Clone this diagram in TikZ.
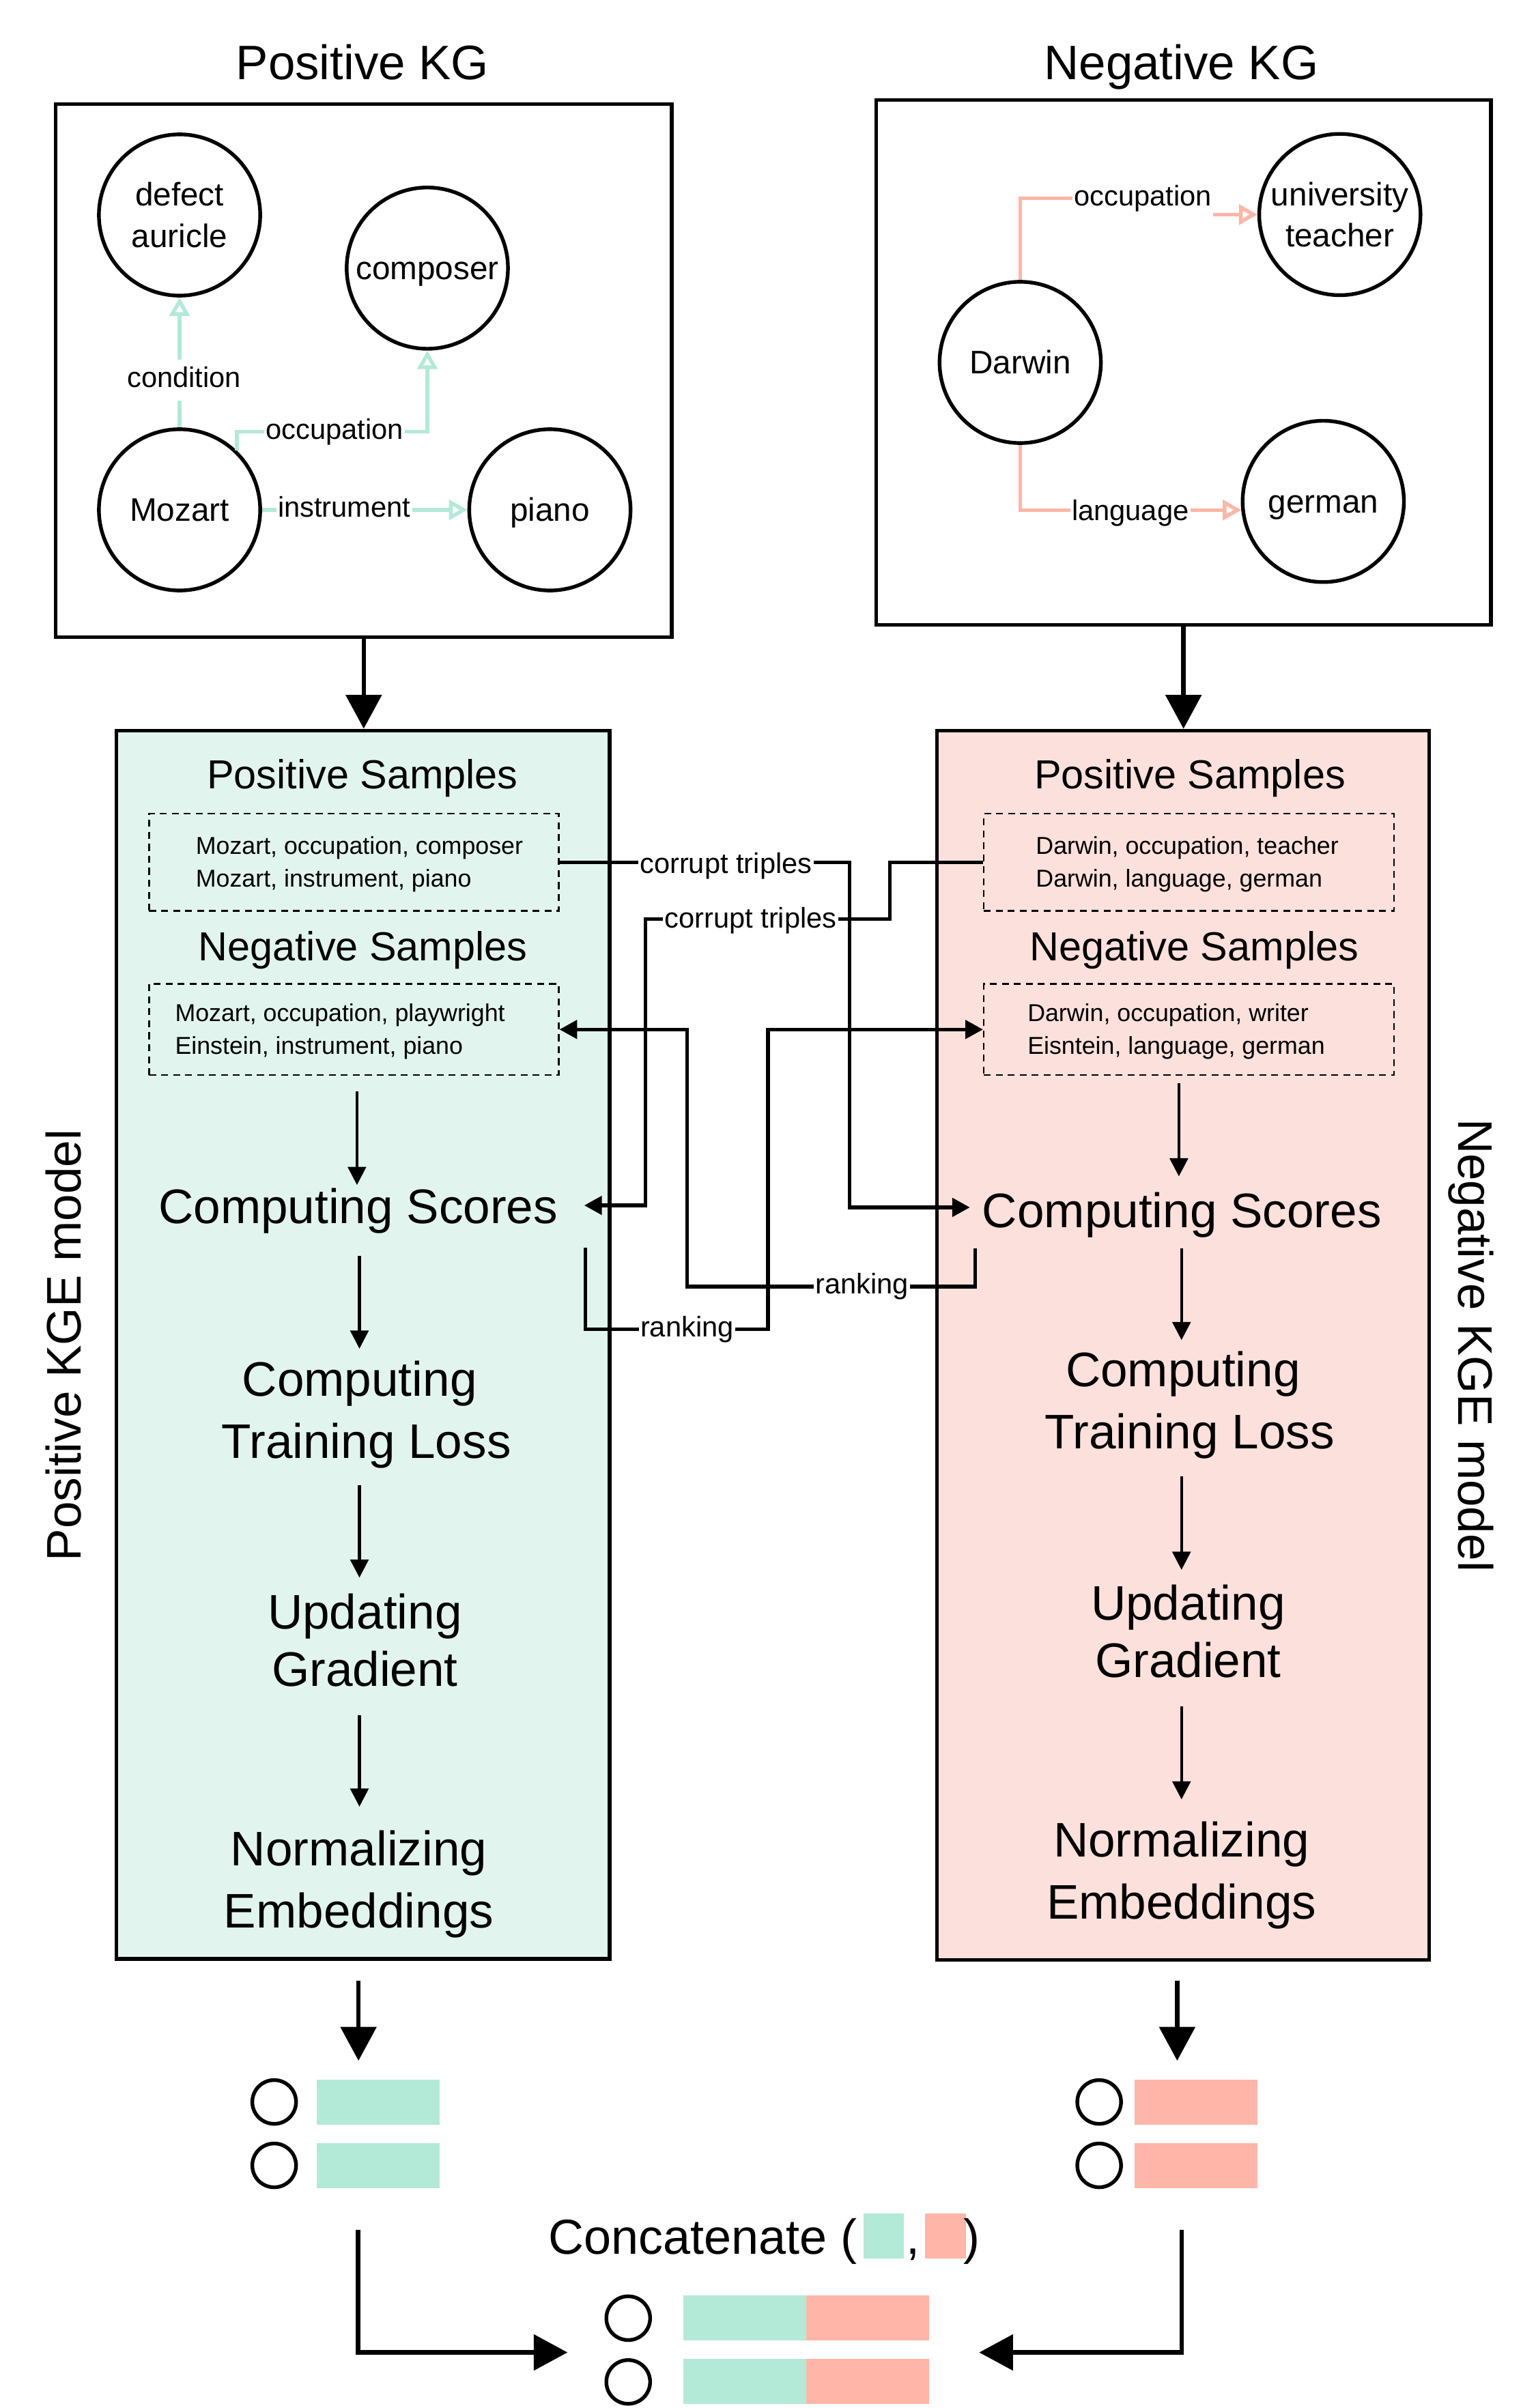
\documentclass[tikz,border=0pt]{standalone}
\usepackage{fontspec}
\setmainfont{Liberation Sans}
\usetikzlibrary{arrows.meta,calc}
\definecolor{tealc}{RGB}{179,234,215}
\definecolor{salmc}{RGB}{255,181,167}
\definecolor{tealbg}{RGB}{225,245,238}
\definecolor{salmbg}{RGB}{252,224,219}
\newcommand\fsTitle{\fontsize{31.5}{38}\selectfont}
\newcommand\fsCirc{\fontsize{21.2}{27}\selectfont}
\newcommand\fsLbl{\fontsize{18.5}{22}\selectfont}
\newcommand\fsSamp{\fontsize{26.4}{32}\selectfont}
\newcommand\fsTrip{\fontsize{15.9}{21.3}\selectfont}
\newcommand\fsStep{\fontsize{31.6}{40.4}\selectfont}
\newcommand\fsStepB{\fontsize{31.6}{37.5}\selectfont}
\newcommand\fsStepC{\fontsize{31.6}{40.6}\selectfont}
\newcommand\fsConc{\fontsize{32}{38}\selectfont}
\begin{document}
\begin{tikzpicture}[x=1pt,y=-1pt,
  ttl/.style={font=\fsTitle, inner sep=0pt},
  kgbox/.style={draw, line width=2.4pt, inner sep=0pt},
  ent/.style={circle, draw, line width=2.4pt, minimum size=105pt, inner sep=0pt, align=center, font=\fsCirc},
  entS/.style={ent, text height=20.07pt, text depth=5.37pt},
  kgpos/.style={draw=tealc, line width=2.4pt, -{Triangle[open, length=12pt, width=13pt]}},
  kgneg/.style={draw=salmc, line width=2.4pt, -{Triangle[open, length=12pt, width=13pt]}},
  elbl/.style={fill=white, font=\fsLbl, text=black, inner xsep=1pt, inner ysep=4.5pt, text height=13.5pt, text depth=3.9pt},
  modelbox/.style={draw, line width=2.4pt, inner sep=0pt},
  samp/.style={font=\fsSamp, inner sep=0pt, anchor=base},
  dbox/.style={draw, line width=1.1pt, dash pattern=on 4.5pt off 3.3pt, inner sep=0pt},
  trip/.style={font=\fsTrip, align=left, inner sep=0pt, anchor=north west},
  stepbox/.style={align=center, inner sep=0pt, anchor=north},
  stepar/.style={line width=1.8pt, -{Triangle[length=11.8pt, width=11.8pt]}},
  bigar/.style={line width=2.8pt, -{Triangle[length=22pt, width=23pt]}},
  xar/.style={line width=2.3pt, -{Triangle[length=11.5pt, width=12pt]}},
  xlbl/.style={fill=white, font=\fsLbl, inner xsep=1pt, inner ysep=2pt, text height=13.5pt, text depth=3.9pt},
  vec/.style={circle, draw, line width=2.4pt, minimum size=28.5pt, inner sep=0pt},
  bar/.style={minimum width=80pt, minimum height=29.3pt, inner sep=0pt}
]
\fill[white] (0,0) rectangle (1000,1568);
\useasboundingbox (0,0) rectangle (1000,1568);

% ---------- Knowledge graphs ----------
\node[ttl, anchor=base] (tpos) at (236,51.9) {Positive KG};
\node[ttl, anchor=base] (tneg) at (769.1,51.9) {Negative KG};
\node[kgbox, minimum width=401pt, minimum height=347pt] (posKG) at (236.8,241.4) {};
\node[kgbox, minimum width=400.3pt, minimum height=342pt] (negKG) at (770.5,236) {};

\node[ent] (defect) at (116.9,140) {defect\\auricle};
\node[entS] (composer) at (278.2,174.6) {composer};
\node[entS] (mozart) at (116.9,332) {Mozart};
\node[entS] (piano) at (358,332) {piano};
\node[ent] (univ) at (872.3,139.7) {university\\teacher};
\node[entS] (darwin) at (664.2,236) {Darwin};
\node[entS] (german) at (861.5,326.5) {german};

\draw[kgpos] (mozart.north) -- node[elbl, pos=0.364, xshift=3pt] (lcond) {condition} (defect.south);
\draw[kgpos] (mozart.46) |- node[elbl, pos=0.757] (loccp) {occupation} (composer.south |- 0,281.2) -- (composer.south);
\draw[kgpos] (mozart.east) -- node[elbl, pos=0.40] (linst) {instrument} (piano.west);
\draw[kgneg] (darwin.north) |- node[elbl, pos=0.845] (loccn) {occupation} (780,129) |- (univ.west);
\draw[kgneg] (darwin.south) |- node[elbl, pos=0.749, yshift=-1.8pt] (llang) {language} (german.186);

% ---------- KGE model boxes ----------
\node[modelbox, fill=tealbg, minimum width=321pt, minimum height=799.8pt] (posKGE) at (236.3,875.6) {};
\node[modelbox, fill=salmbg, minimum width=320.3pt, minimum height=800.5pt] (negKGE) at (770.25,876) {};

\draw[bigar] (posKG.south) -- (posKG.south |- posKGE.north);
\draw[bigar] (negKG.south) -- (negKG.south |- negKGE.north);

\node[font=\fsStep, rotate=90, inner sep=0pt] (pmodel) at (41.5,876) {Positive KGE model};
\node[font=\fsStep, rotate=-90, inner sep=0pt] (nmodel) at (957.8,876) {Negative KGE model};

% samples (left)
\node[samp] (ps1) at (236,513.4) {Positive Samples};
\node[dbox, minimum width=266.6pt, minimum height=63.3pt] (pd1) at (230.4,561.45) {};
\node[trip] (pt1) at (127.3,544.4) {Mozart, occupation, composer\\Mozart, instrument, piano};
\node[samp] (ns1) at (236.2,625.4) {Negative Samples};
\node[dbox, minimum width=266.6pt, minimum height=59.3pt] (nd1) at (230.4,670.35) {};
\node[trip] (nt1) at (113.8,653.4) {Mozart, occupation, playwright\\Einstein, instrument, piano};

% samples (right)
\node[samp] (ps2) at (774.7,513.4) {Positive Samples};
\node[dbox, minimum width=267.1pt, minimum height=63.3pt] (pd2) at (774.05,561.45) {};
\node[trip] (pt2) at (674.2,544.4) {Darwin, occupation, teacher\\Darwin, language, german};
\node[samp] (ns2) at (777.4,625.4) {Negative Samples};
\node[dbox, minimum width=267.1pt, minimum height=59.3pt] (nd2) at (774.05,670.35) {};
\node[trip] (nt2) at (668.8,653.4) {Darwin, occupation, writer\\Eisntein, language, german};

% steps (left)
\node[stepbox, font=\fsStep] (cs1) at (233.2,773.6) {Computing Scores};
\node[stepbox, font=\fsStep] (tl1) at (238.5,886.2) {Computing\rule{8.8pt}{0pt}\\Training Loss};
\node[stepbox, font=\fsStepB] (ug1) at (237.5,1037.4) {Updating\\Gradient};
\node[stepbox, font=\fsStepC] (ne1) at (233.6,1191.6) {Normalizing\\Embeddings};

% steps (right)
\node[stepbox, font=\fsStep] (cs2) at (769.5,776.4) {Computing Scores};
\node[stepbox, font=\fsStep] (tl2) at (774.6,879.8) {Computing\rule{8.8pt}{0pt}\\Training Loss};
\node[stepbox, font=\fsStepB] (ug2) at (773.5,1031.7) {Updating\\Gradient};
\node[stepbox, font=\fsStepC] (ne2) at (769.2,1186) {Normalizing\\Embeddings};

\coordinate (axL0) at (232.4,0);
\coordinate (axL) at (234,0);
\coordinate (axR0) at (767.5,0);
\coordinate (axR) at (769.2,0);

\draw[stepar, shorten <=10.3pt, shorten >=2pt] (axL0 |- nd1.south) -- (axL0 |- cs1.north);
\draw[stepar, shorten <=14.3pt, shorten >=8pt] (axL |- cs1.south) -- (axL |- tl1.north);
\draw[stepar, shorten <=10.5pt, shorten >=10.1pt] (axL |- tl1.south) -- (axL |- ug1.north);
\draw[stepar, shorten <=18.4pt, shorten >=15.2pt] (axL |- ug1.south) -- (axL |- ne1.north);

\draw[stepar, shorten <=4.9pt, shorten >=10.4pt] (axR0 |- nd2.south) -- (axR0 |- cs2.north);
\draw[stepar, shorten <=6.5pt, shorten >=7.2pt] (axR |- cs2.south) -- (axR |- tl2.north);
\draw[stepar, shorten <=11.2pt, shorten >=9.5pt] (axR |- tl2.south) -- (axR |- ug2.north);
\draw[stepar, shorten <=18.5pt, shorten >=14.3pt] (axR |- ug2.south) -- (axR |- ne2.north);

% ---------- cross connectors ----------
\draw[xar, shorten >=7.9pt] (pd1.east) -| node[xlbl, pos=0.287, yshift=-2.5pt] (lct1) {corrupt triples} (553,786.2) -- (cs2.west |- 0,786.2);
\draw[xar, shorten >=17pt] (pd2.west) -| (579.4,598.5) -| node[xlbl, pos=0.285, yshift=-1pt] (lct2) {corrupt triples} (420.2,784.9) -- (cs1.east |- 0,784.9);
\draw[xar] ($(cs2.south west)+(-4.6,6.5)$) |- node[xlbl, pos=0.696] (lrk1) {ranking} (447.2,837.8) |- (nd1.east);
\draw[xar] ($(cs1.south east)+(17.8,9)$) |- node[xlbl, pos=0.778] (lrk2) {ranking} (500,865.5) |- (nd2.west);

% ---------- embeddings ----------
\node[vec] (pc1) at (178.5,1368.7) {};
\node[vec] (pc2) at (178.5,1410) {};
\node[bar, fill=tealc] (pb1) at (246.05,1368.7) {};
\node[bar, fill=tealc] (pb2) at (246.05,1410.05) {};
\node[vec] (nc1) at (715.6,1368.7) {};
\node[vec] (nc2) at (715.6,1410) {};
\node[bar, fill=salmc] (nb1) at (778.75,1368.7) {};
\node[bar, fill=salmc] (nb2) at (778.75,1410.05) {};

\draw[bigar, shorten <=13pt, shorten >=12pt] ([xshift=-2.9pt]posKGE.south) -- ([xshift=-2.9pt]posKGE.south |- pb1.north);
\draw[bigar, shorten <=12.2pt, shorten >=12pt] ([xshift=-3.85pt]negKGE.south) -- ([xshift=-3.85pt]negKGE.south |- nb1.north);

\node[anchor=base west, font=\fsConc, inner sep=0pt] (concat) at (356.9,1467.9) {Concatenate (};
\node[fill=tealc, minimum width=26.2pt, minimum height=29.2pt, inner sep=0pt] (cq1) at (575.3,1456) {};
\node[anchor=base west, font=\fsConc, inner sep=0pt] (ccomma) at (590,1467.9) {,};
\node[fill=salmc, minimum width=26.7pt, minimum height=29.2pt, inner sep=0pt] (cq2) at (615.75,1456) {};
\node[anchor=base west, font=\fsConc, inner sep=0pt] (cpar) at (627,1467.9) {)};

\node[vec] (cc1) at (409,1509.5) {};
\node[vec] (cc2) at (409,1551) {};
\node[bar, fill=tealc] (cb1t) at (484.8,1509.4) {};
\node[bar, fill=salmc] (cb1s) at (564.8,1509.4) {};
\node[bar, fill=tealc] (cb2t) at (484.8,1550.8) {};
\node[bar, fill=salmc] (cb2s) at (564.8,1550.8) {};

\coordinate (jL) at (369.5,1531.8);
\coordinate (jR) at (637.5,1531.8);
\draw[bigar] ([xshift=-13pt]pb2.south) ++(0,27.3) |- (jL);
\draw[bigar] ([xshift=-9.35pt]nb2.south) ++(0,27.3) |- (jR);
\end{tikzpicture}
\end{document}
